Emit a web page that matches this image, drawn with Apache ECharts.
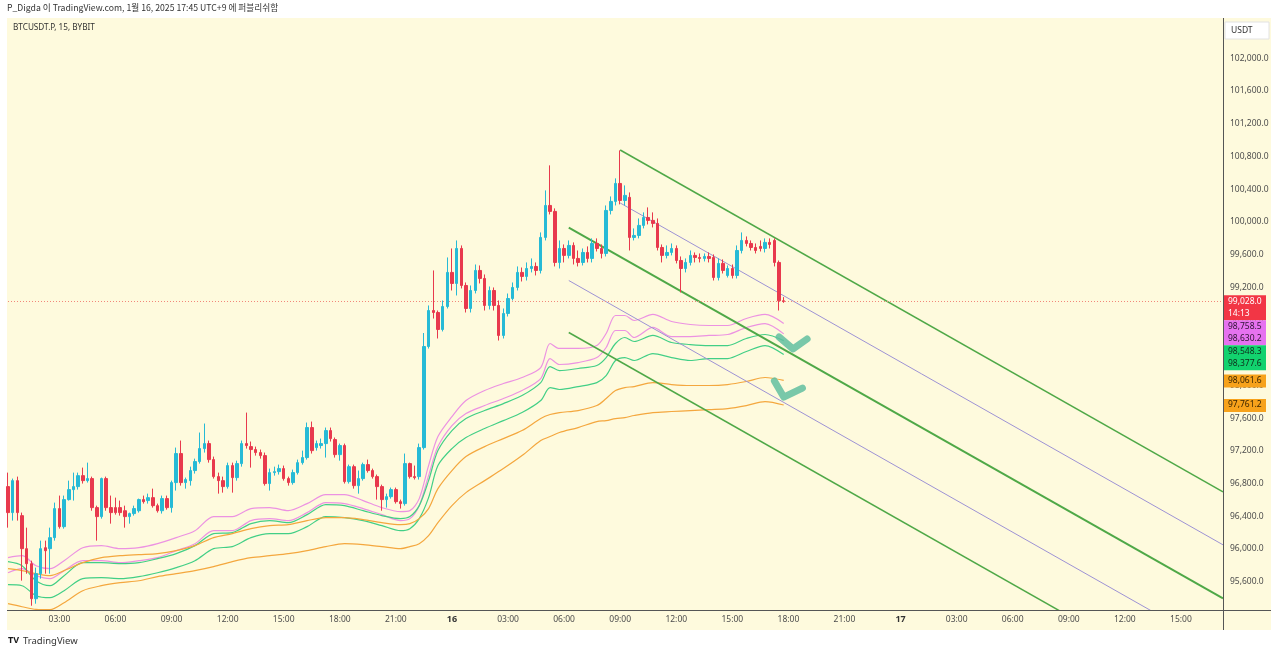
<!DOCTYPE html>
<html>
<head>
<meta charset="utf-8">
<title>BTCUSDT.P 15 BYBIT</title>
<script src="https://cdn.jsdelivr.net/npm/echarts@6/dist/echarts.min.js"></script>
<style>
  html, body { margin: 0; padding: 0; background: #fff; }
  #wrap { position: relative; width: 1280px; height: 654px; }
  #bg { position: absolute; left: 7px; top: 18px; width: 1264px; height: 612px; background: #fefadd; }
  #chart { position: absolute; left: 0; top: 0; width: 1280px; height: 654px; }
</style>
</head>
<body>
<div id="wrap">
  <div id="bg"></div>
  <div id="chart"></div>
</div>
<script>
// 15분봉, 1/15 00:15 부터 (index 0)
const candleOpen = [
  96763, 96445, 96836, 96408, 96004, 95820, 95392, 95698, 96016, 96004, 96139, 96494,
  96273, 96604, 96726, 96763, 96897, 96836, 96861, 96506, 96396, 96861, 96506, 96506,
  96506, 96468, 96396, 96433, 96468, 96604, 96592, 96628, 96530, 96468, 96616, 96506,
  96812, 97167, 96812, 96836, 96959, 97069, 97228, 97289, 97093, 96885, 96836, 96763,
  97020, 96873, 97044, 97289, 97252, 97216, 97179, 97142, 96800, 96934, 96946, 96983,
  96861, 96812, 96934, 97056, 97118, 97485, 97240, 97265, 97289, 97448, 97338, 97154,
  97265, 96824, 97007, 96775, 96861, 97032, 96959, 96885, 96763, 96604, 96640, 96726,
  96579, 96555, 97044, 96885, 96885, 97240, 98476, 98916, 98892, 98684, 98965, 99382,
  99247, 99675, 99222, 98941, 99161, 99406, 99308, 98978, 99161, 98978, 98611, 98880,
  99063, 99198, 99382, 99333, 99430, 99455, 99406, 99810, 100201, 100128, 99504, 99675,
  99590, 99712, 99553, 99504, 99626, 99553, 99736, 99675, 99614, 100140, 100250, 100470,
  100262, 100300, 99810, 99834, 99957, 100054, 100018, 99981, 99687, 99590, 99626, 99675,
  99528, 99430, 99504, 99590, 99565, 99553, 99577, 99565, 99320, 99492, 99345, 99430,
  99345, 99650, 99773, 99736, 99687, 99700, 99675, 99749, 99773, 99504, 99035
];
const candleClose = [
  96445, 96836, 96445, 96004, 95820, 95392, 95698, 96004, 95979, 96139, 96494, 96273,
  96604, 96726, 96763, 96897, 96836, 96861, 96506, 96396, 96861, 96506, 96445, 96445,
  96445, 96396, 96433, 96494, 96604, 96579, 96628, 96530, 96468, 96616, 96506, 96812,
  97167, 96812, 96849, 96959, 97069, 97228, 97289, 97093, 96885, 96836, 96763, 97020,
  96873, 97044, 97289, 97265, 97216, 97179, 97142, 96800, 96934, 96946, 96983, 96861,
  96812, 96934, 97056, 97118, 97485, 97203, 97289, 97289, 97448, 97350, 97154, 97265,
  96824, 97007, 96775, 96861, 97032, 96959, 96885, 96763, 96604, 96640, 96726, 96579,
  96555, 97044, 96885, 96873, 97240, 98476, 98916, 98892, 98684, 98965, 99382, 99247,
  99675, 99222, 98941, 99161, 99406, 99308, 98978, 99161, 98978, 98611, 98880, 99063,
  99198, 99382, 99333, 99430, 99455, 99406, 99810, 100201, 100128, 99504, 99675, 99590,
  99712, 99553, 99504, 99626, 99553, 99736, 99675, 99614, 100140, 100250, 100470, 100262,
  100324, 99810, 99834, 99957, 100054, 100018, 99981, 99687, 99590, 99626, 99675, 99528,
  99430, 99504, 99590, 99565, 99553, 99577, 99553, 99320, 99492, 99406, 99430, 99345,
  99650, 99773, 99736, 99687, 99650, 99675, 99749, 99724, 99504, 99035, 99028
];
const candleLow = [
  96261, 96347, 96347, 95613, 95698, 95306, 95331, 95637, 95698, 95698, 96102, 96249,
  96249, 96592, 96592, 96726, 96800, 96812, 96468, 96102, 96371, 96468, 96310, 96420,
  96408, 96261, 96310, 96408, 96445, 96555, 96555, 96506, 96445, 96433, 96481, 96445,
  96714, 96775, 96738, 96775, 96922, 97044, 97179, 97056, 96861, 96677, 96689, 96738,
  96689, 96836, 97007, 97228, 96995, 97142, 97105, 96775, 96714, 96897, 96910, 96836,
  96775, 96787, 96910, 97032, 97093, 97167, 97203, 97228, 97118, 97314, 97118, 97080,
  96800, 96800, 96738, 96677, 96836, 96934, 96861, 96604, 96468, 96506, 96616, 96555,
  96494, 96530, 96861, 96849, 96849, 97216, 98451, 98818, 98574, 98660, 98941, 99161,
  99100, 99186, 98892, 98892, 99125, 99247, 98916, 98929, 98916, 98549, 98574, 98843,
  99039, 99161, 99271, 99283, 99382, 99345, 99369, 99773, 100091, 99455, 99430, 99504,
  99553, 99479, 99455, 99467, 99504, 99504, 99638, 99553, 99577, 100091, 100201, 100214,
  100201, 99650, 99773, 99798, 99920, 99969, 99932, 99650, 99504, 99553, 99590, 99492,
  99137, 99382, 99467, 99504, 99504, 99516, 99504, 99283, 99283, 99369, 99320, 99308,
  99308, 99614, 99700, 99650, 99614, 99638, 99626, 99675, 99455, 98916, 99010
];
const candleHigh = [
  96934, 96861, 96885, 96445, 96261, 95857, 95772, 96102, 96102, 96261, 96567, 96653,
  96653, 96836, 96934, 96934, 96995, 97056, 96885, 96530, 96873, 96885, 96653, 96628,
  96592, 96530, 96445, 96530, 96616, 96653, 96677, 96738, 96555, 96653, 96653, 96836,
  97240, 97326, 96873, 97007, 97105, 97424, 97534, 97326, 97130, 96934, 96885, 97056,
  97056, 97080, 97326, 97668, 97314, 97252, 97216, 97179, 96983, 97007, 97032, 97020,
  96885, 96971, 97093, 97203, 97546, 97558, 97326, 97350, 97485, 97485, 97363, 97289,
  97289, 97032, 97032, 96959, 97056, 97093, 96983, 96910, 96787, 96677, 96751, 96751,
  96604, 97167, 97056, 97020, 97289, 98641, 98978, 99406, 98916, 99039, 99565, 99675,
  99773, 99712, 99259, 99222, 99479, 99467, 99357, 99210, 99198, 99039, 98941, 99124,
  99259, 99455, 99442, 99504, 99553, 99504, 99871, 100385, 100691, 100165, 99773, 99724,
  99773, 99749, 99650, 99675, 99700, 99798, 99798, 99724, 100201, 100311, 100532, 100874,
  100446, 100360, 99920, 100042, 100116, 100177, 100116, 100042, 99724, 99712, 99736, 99712,
  99577, 99553, 99650, 99626, 99614, 99614, 99626, 99602, 99553, 99541, 99467, 99479,
  99712, 99871, 99822, 99773, 99736, 99773, 99798, 99798, 99798, 99528, 99080
];

// 밴드 라인 샘플 (캔들 index 기준)
const lineK = [0, 3, 6, 9, 12, 16, 20, 24, 28, 32, 36, 40, 44, 48, 52, 56, 60, 64, 68, 72, 76, 80, 84, 86, 88,
  90, 92, 95, 98, 102, 106, 110, 114, 116, 118, 122, 126, 128, 130, 132, 134, 138, 142, 146, 150, 154, 158, 162, 166];
const pinkHi = [95894, 95918, 95796, 95759, 95857, 96016, 96041, 96004, 96016, 96065, 96139, 96224, 96396, 96396,
  96494, 96506, 96469, 96555, 96665, 96665, 96592, 96506, 96457, 96469, 96616, 97020, 97375, 97619, 97815, 97938,
  98023, 98097, 98219, 98513, 98452, 98452, 98488, 98635, 98855, 98855, 98794, 98868, 98782, 98745, 98733, 98733,
  98819, 98868, 98758.5];
const pinkLo = [95710, 95759, 95674, 95637, 95735, 95857, 95857, 95833, 95857, 95894, 95980, 96065, 96224, 96224,
  96347, 96371, 96347, 96445, 96567, 96555, 96494, 96420, 96347, 96371, 96530, 96897, 97252, 97509, 97656, 97754,
  97840, 97938, 98084, 98329, 98256, 98280, 98341, 98464, 98672, 98672, 98586, 98709, 98598, 98598, 98611, 98623,
  98709, 98757, 98630.2];
const greenHi = [95845, 95796, 95612, 95551, 95674, 95833, 95833, 95821, 95833, 95882, 95943, 96041, 96188, 96200,
  96310, 96347, 96322, 96420, 96543, 96530, 96469, 96408, 96371, 96396, 96530, 96836, 97203, 97448, 97595, 97693,
  97778, 97876, 98035, 98231, 98182, 98207, 98243, 98341, 98513, 98586, 98537, 98611, 98525, 98500, 98488, 98488,
  98574, 98623, 98548.3];
const greenLo = [95564, 95551, 95429, 95405, 95490, 95637, 95649, 95637, 95662, 95710, 95772, 95857, 96004, 96029,
  96139, 96188, 96188, 96273, 96396, 96383, 96347, 96286, 96224, 96249, 96371, 96628, 97020, 97228, 97362, 97473,
  97570, 97668, 97815, 97974, 97950, 97986, 98035, 98121, 98305, 98341, 98305, 98390, 98341, 98305, 98329, 98329,
  98415, 98488, 98377.6];
const orangeHi = [95759, 95735, 95698, 95674, 95735, 95833, 95894, 95918, 95931, 95943, 95980, 96041, 96139, 96188,
  96249, 96286, 96298, 96347, 96383, 96383, 96359, 96322, 96298, 96310, 96371, 96494, 96738, 96959, 97130, 97252,
  97350, 97448, 97595, 97644, 97668, 97693, 97754, 97840, 97938, 97974, 97986, 98035, 98011, 97999, 97999, 98011,
  98048, 98097, 98061.6];
const orangeLo = [95331, 95294, 95262, 95258, 95343, 95490, 95551, 95588, 95612, 95662, 95698, 95735, 95784, 95845,
  95894, 95918, 95943, 95980, 96029, 96065, 96053, 96029, 96004, 96029, 96065, 96163, 96322, 96530, 96689, 96836,
  96983, 97142, 97326, 97375, 97424, 97485, 97558, 97570, 97595, 97607, 97632, 97668, 97681, 97693, 97705, 97717,
  97754, 97803, 97761.2];

// 추세선 (index, 가격)
const trendUpperGreen = [[131, 100879], [260, 96698]];
const trendUpperPurple = [[131, 100231], [260, 96051]];
const trendMidGreen = [[120, 99931], [260, 95395]];
const trendLowPurple = [[120, 99283], [260, 94747]];
const trendLowGreen = [[120, 98647], [260, 94111]];
const check1 = [[165, 98592], [168, 98446], [171, 98568]];
const check2 = [[164, 98054], [166, 97858], [170, 97968]];

const lastPrice = 99028.0;
const countdown = '14:13';
const yTicks = [95600, 96000, 96400, 96800, 97200, 97600, 98000, 98400, 98800, 99200, 99600,
  100000, 100400, 100800, 101200, 101600, 102000];

// 카테고리: 1/15 00:15 ~ 1/17 17:15
const categories = [];
for (let k = 0; k < 261; k++) {
  const m = 15 * (k + 1);
  const day = 15 + Math.floor(m / 1440);
  const hm = m % 1440;
  const hh = String(Math.floor(hm / 60)).padStart(2, '0');
  const mm = String(hm % 60).padStart(2, '0');
  categories.push(hm === 0 ? String(day) : hh + ':' + mm);
}

const fmt = v => v.toLocaleString('en-US', { minimumFractionDigits: 1, maximumFractionDigits: 1 });
const FONT = '"Noto Sans", "Open Sans", sans-serif';

const chart = echarts.init(document.getElementById('chart'));

function band(data, color) {
  return {
    type: 'line',
    data: lineK.map((k, i) => [k, data[i]]),
    symbol: 'none',
    smooth: 0.3,
    lineStyle: { color: color, width: 1.2 },
    silent: true,
    z: 3
  };
}
function trend(data, color, width) {
  return {
    type: 'line',
    data: data,
    symbol: 'none',
    lineStyle: { color: color, width: width },
    silent: true,
    z: 4
  };
}
function check(data) {
  return {
    type: 'line',
    data: data,
    symbol: 'none',
    lineStyle: { color: 'rgba(98,190,160,0.85)', width: 7, cap: 'round', join: 'round' },
    silent: true,
    z: 6
  };
}

const option = {
  animation: false,
  backgroundColor: 'transparent',
  grid: { left: 8, right: 57, top: 18, bottom: 44 },
  xAxis: {
    type: 'category',
    data: categories,
    boundaryGap: false,
    axisLine: { show: false },
    axisTick: { show: false },
    splitLine: { show: false },
    axisLabel: {
      color: '#4d4d4d',
      fontSize: 8.5,
      fontFamily: FONT,
      margin: 5,
      interval: (index) => (15 * (index + 1)) % 180 === 0,
      formatter: v => v.indexOf(':') < 0 ? '{d|' + v + '}' : v,
      rich: { d: { fontWeight: 'bold', color: '#333', fontSize: 9, fontFamily: FONT } }
    }
  },
  yAxis: {
    type: 'value',
    position: 'right',
    min: 95254,
    max: 102493,
    axisLine: { show: false },
    axisTick: { show: false },
    splitLine: { show: false },
    axisLabel: {
      customValues: yTicks,
      formatter: v => fmt(v),
      color: '#4d4d4d',
      fontSize: 8.5,
      fontFamily: FONT,
      margin: 7
    }
  },
  series: [
    {
      type: 'candlestick',
      data: candleOpen.map((o, i) => [o, candleClose[i], candleLow[i], candleHigh[i]]),
      barWidth: 3,
      itemStyle: {
        color: '#26bad6',
        color0: '#e8394d',
        borderColor: '#26bad6',
        borderColor0: '#e8394d',
        borderWidth: 1
      },
      z: 5,
      markLine: {
        silent: true,
        symbol: ['none', 'none'],
        label: { show: false },
        lineStyle: { color: '#f2877a', type: [1, 2], width: 1 },
        data: [{ yAxis: lastPrice }]
      }
    },
    band(pinkHi, '#ec92e2'),
    band(pinkLo, '#ec92e2'),
    band(greenHi, '#42cf86'),
    band(greenLo, '#42cf86'),
    band(orangeHi, '#f4a73e'),
    band(orangeLo, '#f4a73e'),
    trend(trendUpperGreen, '#4fa847', 1.5),
    trend(trendUpperPurple, '#9d92d4', 1),
    trend(trendMidGreen, '#4fa847', 2),
    trend(trendLowPurple, '#9d92d4', 1),
    trend(trendLowGreen, '#4fa847', 1.5),
    check(check1),
    check(check2)
  ]
};
chart.setOption(option);

// 오른쪽 가격 태그 (겹치면 아래로 밀기)
const tagGroups = [
  { lines: [fmt(lastPrice), countdown], price: lastPrice, bg: '#f23645', fg: '#ffffff' },
  { lines: [fmt(pinkHi[pinkHi.length - 1]), fmt(pinkLo[pinkLo.length - 1])], price: pinkHi[pinkHi.length - 1], bg: '#e672f0', fg: '#2e1433' },
  { lines: [fmt(greenHi[greenHi.length - 1]), fmt(greenLo[greenLo.length - 1])], price: greenHi[greenHi.length - 1], bg: '#12d26e', fg: '#0f2e1c' },
  { lines: [fmt(orangeHi[orangeHi.length - 1])], price: orangeHi[orangeHi.length - 1], bg: '#f7a21b', fg: '#3a2500' },
  { lines: [fmt(orangeLo[orangeLo.length - 1])], price: orangeLo[orangeLo.length - 1], bg: '#f7a21b', fg: '#3a2500' }
];
const tagEls = [];
let prevBottom = -Infinity;
tagGroups.forEach(g => {
  const yc = chart.convertToPixel({ yAxisIndex: 0 }, g.price);
  const top = Math.max(yc - 6, prevBottom);
  const h = g.lines.length * 12 + 1;
  tagEls.push({ type: 'rect', shape: { x: 1224, y: top, width: 42, height: h }, style: { fill: g.bg }, z: 100 });
  g.lines.forEach((t, j) => {
    tagEls.push({
      type: 'text', x: 1228, y: top + 1.5 + j * 12, z: 101,
      style: { text: t, font: '8.5px ' + FONT, fill: g.fg, verticalAlign: 'top' }
    });
  });
  prevBottom = top + h;
});

chart.setOption({
  graphic: [
    { type: 'text', x: 7, y: 3, z: 50,
      style: { text: 'P_Digda 이 TradingView.com, 1월 16, 2025 17:45 UTC+9 에 퍼블리쉬함',
        font: '8.7px "Noto Sans CJK KR", "Noto Sans", sans-serif', fill: '#333', verticalAlign: 'top' } },
    { type: 'text', x: 13, y: 24, z: 50,
      style: { text: 'BTCUSDT.P, 15, BYBIT', font: '8.2px ' + FONT, fill: '#333', verticalAlign: 'top' } },
    { type: 'rect', shape: { x: 1225, y: 22, width: 44, height: 17 }, z: 50,
      style: { fill: '#ffffff', stroke: '#e2e2e2', lineWidth: 1 } },
    { type: 'text', x: 1231, y: 26, z: 51,
      style: { text: 'USDT', font: '8.5px ' + FONT, fill: '#333', verticalAlign: 'top' } },
    { type: 'line', shape: { x1: 7, y1: 610.5, x2: 1271, y2: 610.5 }, z: 50,
      style: { stroke: '#555', lineWidth: 1 } },
    { type: 'line', shape: { x1: 1223.5, y1: 18, x2: 1223.5, y2: 630 }, z: 50,
      style: { stroke: '#555', lineWidth: 1 } },
    { type: 'text', x: 8, y: 636, z: 50,
      style: { text: 'TV', font: 'bold 9px ' + FONT, fill: '#1a1a1a', verticalAlign: 'top' } },
    { type: 'text', x: 23, y: 636, z: 50,
      style: { text: 'TradingView', font: '9.5px ' + FONT, fill: '#333', verticalAlign: 'top' } }
  ].concat(tagEls)
});
</script>
</body>
</html>
